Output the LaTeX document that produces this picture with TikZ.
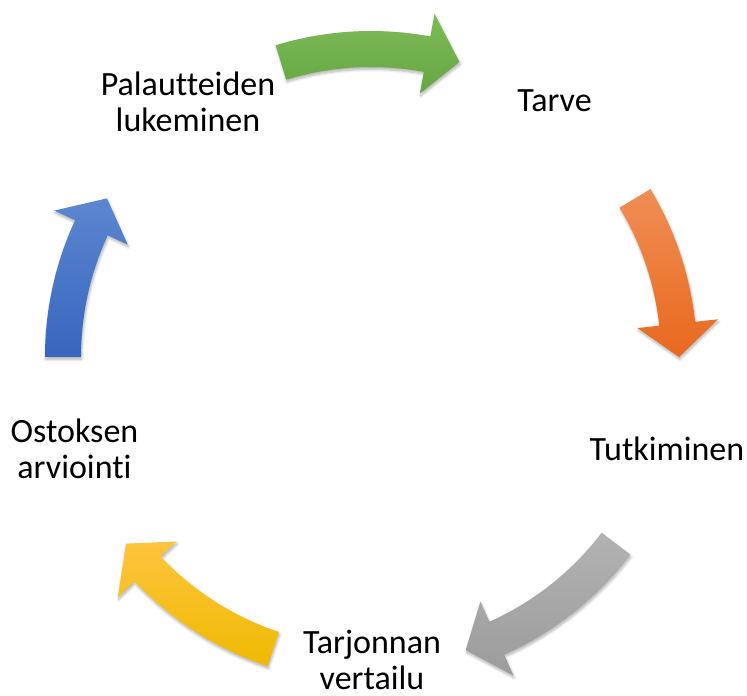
\documentclass[tikz,border=0pt]{standalone}
\usepackage{fontspec}
\setmainfont{Carlito}[Ligatures=NoCommon]
\usetikzlibrary{shadows.blur}

\definecolor{grhi}{HTML}{7DBB57}
\definecolor{grlo}{HTML}{66A742}
\definecolor{orhi}{HTML}{F08E55}
\definecolor{orlo}{HTML}{E8691E}
\definecolor{gyhi}{HTML}{B2B2B2}
\definecolor{gylo}{HTML}{9C9C9C}
\definecolor{yehi}{HTML}{FEC43F}
\definecolor{yelo}{HTML}{EFBA00}
\definecolor{blhi}{HTML}{5C87D0}
\definecolor{bllo}{HTML}{3965BE}

\begin{document}
\begin{tikzpicture}[x=0.75pt, y=0.75pt,
	steplabel/.style={font=\fontsize{25.5}{27}\selectfont, align=center, anchor=base, inner sep=0pt},
	cyclearrow/.style={draw=none, blur shadow={shadow xshift=0.6pt, shadow yshift=-1.8pt, shadow opacity=30, shadow blur steps=6}}]

	\useasboundingbox (-371,-339) rectangle (376,357);

	\node [steplabel] (tarve) at (183.5,245) {Tarve};
	\node [steplabel] (tutk) at (296,-104) {Tutkiminen};
	\node [steplabel] (vert) at (1,-332) {Tarjonnan\\vertailu};
	\node [steplabel] (arvi) at (-296.5,-122) {Ostoksen\\arviointi};
	\node [steplabel] (pala) at (-183,225) {Palautteiden\\lukeminen};

	\foreach \a/\b/\hi/\lo in {107/73.3/grhi/grlo, 31/0/orhi/orlo, -37.3/-72.1/gyhi/gylo, -108.5/-142.7/yehi/yelo, 180/149/blhi/bllo} {
		\pgfmathsetmacro{\h}{\b+6.2}
		\path [cyclearrow, top color=\hi, bottom color=\lo]
			(\a:326) arc [start angle=\a, end angle=\h, radius=326] -- (\h:349) -- (\b:308)
			-- (\h:268) -- (\h:290) arc [start angle=\h, end angle=\a, radius=290] -- cycle;
	}
\end{tikzpicture}
\end{document}
